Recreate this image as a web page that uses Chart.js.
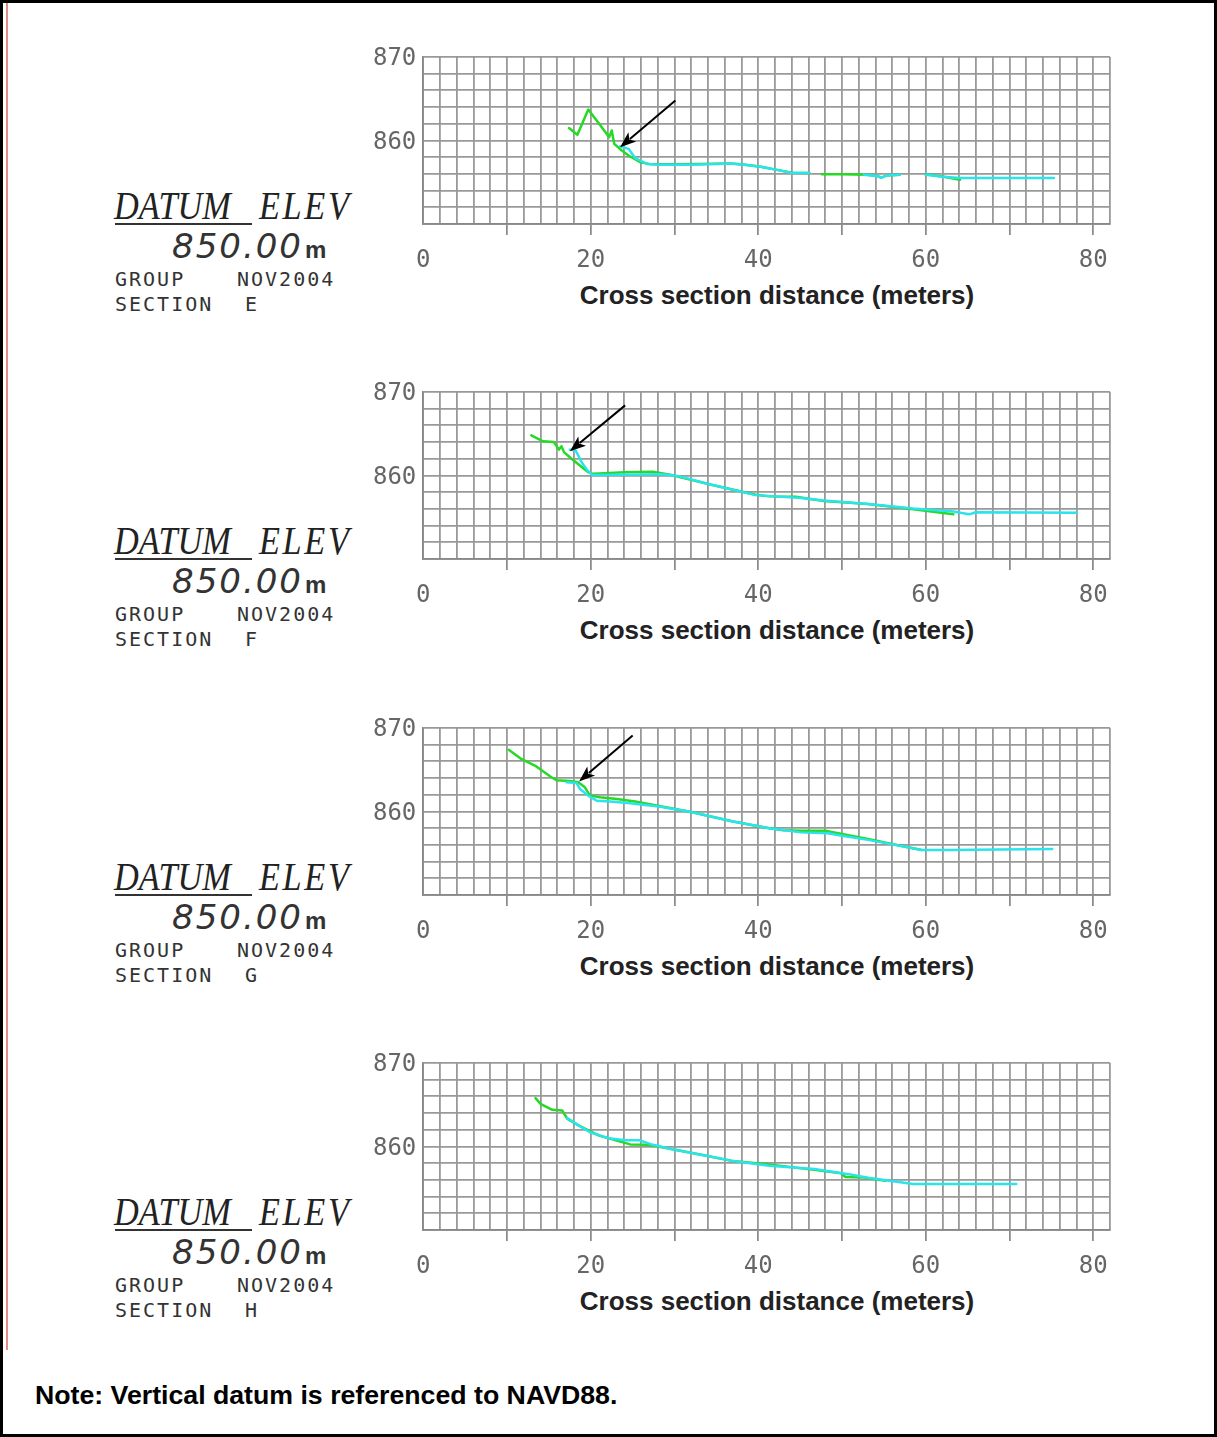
<!DOCTYPE html>
<html>
<head>
<meta charset="utf-8">
<script src="https://cdn.jsdelivr.net/npm/chart.js@4.4.0/dist/chart.umd.min.js"></script>
<style>
  body { margin: 0; background: #fff; }
  #page { position: relative; width: 1217px; height: 1437px; overflow: hidden; background: #fff; }
  #frame { position: absolute; left: 0; top: 0; width: 1217px; height: 1437px; box-sizing: border-box; border: 3px solid #000; pointer-events: none; }
  #redline { position: absolute; left: 6px; top: 3px; width: 2px; height: 1347px; background: #e08a8a; }
  .lbl { position: absolute; white-space: pre; line-height: 1; }
  .datum { font: italic 39px 'Liberation Serif', 'DejaVu Serif', serif; color: #222; transform: scaleX(0.88); transform-origin: left top; }
  .datum.wide { letter-spacing: 3px; }
  .uline { position: absolute; height: 2px; background: #333; }
  .elev { font: italic 34px 'DejaVu Sans', sans-serif; color: #333; letter-spacing: 2px; }
  .elev span { font: bold 24px 'Liberation Sans', Arial, sans-serif; letter-spacing: 0; margin-left: 2px; }
  .cad { font: 20px 'DejaVu Sans Mono', monospace; color: #333; letter-spacing: 2px; }
  .xtitle { font: bold 26px 'Liberation Sans', Arial, sans-serif; color: #222; transform: translateX(-50%); }
  .note { font: bold 26.7px 'Liberation Sans', Arial, sans-serif; color: #000; }
  canvas.plot { position: absolute; }
</style>
</head>
<body>
<div id="page">
  <div id="redline"></div>
  <div class="lbl note" style="left:35px; top:1380px;">Note: Vertical datum is referenced to NAVD88.</div>
  <div id="frame"></div>
</div>
<script>
// ---- data (distance m, elevation m); null elevation = gap in survey line ----
const sectionNames = ['E', 'F', 'G', 'H'];
const groupName = 'NOV2004';
const datumElev = '850.00';
const xLabels = [0, 20, 40, 60, 80];
const yLabels = [860, 870];

const greenE = [[17.4,861.5],[18.4,860.7],[19.7,863.7],[21.0,862.0],[22.2,860.4],[22.5,861.2],[22.8,859.6],[23.7,858.8],[24.5,858.2],[25.9,857.4],[27.0,857.2],[30,857.15],[33,857.2],[36.5,857.25],[38.5,857.1],[40.3,856.85],[42.4,856.45],[44,856.15],[46.1,856.1],[47.0,null],[47.6,855.95],[50,855.95],[53,855.9],[54.2,855.75],[54.7,855.55],[55.3,855.8],[56.9,855.9],[58,null],[60.0,855.95],[62,855.7],[64.1,855.3]];
const cyanE = [[23.5,859.3],[24.5,859.0],[25.3,857.9],[26.7,857.2],[28,857.1],[32,857.1],[37,857.25],[40.3,856.85],[42.4,856.45],[44,856.1],[46.1,856.1],[47,null],[52.6,855.9],[54.2,855.75],[54.7,855.55],[55.3,855.8],[56.9,855.9],[58,null],[60.0,855.9],[62,855.65],[64.1,855.5],[70,855.5],[75.3,855.5]];

const greenF = [[12.9,864.8],[14.3,864.1],[15.6,864.0],[16.2,863.1],[16.5,863.5],[16.8,862.8],[17.7,862.0],[18.7,861.2],[19.7,860.4],[20.2,860.2],[21,860.25],[24,860.4],[27.4,860.45],[29.5,860.1],[34.4,858.9],[39.7,857.7],[41.3,857.5],[44.5,857.45],[47.8,856.95],[50,856.8],[53.1,856.6],[58.5,855.95],[63.3,855.35]];
const cyanF = [[17.5,863.1],[18.2,863.0],[18.9,861.6],[19.6,860.6],[20.2,860.05],[24,860.1],[28.5,860.15],[30.6,859.9],[34.4,858.9],[39.7,857.65],[45.1,857.3],[47.8,857.0],[53.1,856.6],[58.5,856.05],[63.3,855.7],[64.3,855.5],[65.2,855.35],[66,855.6],[78,855.55]];

const greenG = [[10.2,867.4],[11.7,866.3],[13.5,865.4],[15.3,864.1],[15.9,863.75],[17.5,863.65],[18.5,863.5],[19.3,862.9],[19.9,861.9],[21.1,861.7],[23.1,861.5],[25.3,861.2],[28,860.7],[31.7,860.0],[37,858.8],[41.3,858.0],[43,857.75],[45.1,857.7],[48,857.7],[50,857.3],[53.1,856.7],[57.4,855.8],[59.5,855.4]];
const cyanG = [[17.1,863.5],[18.3,863.4],[18.7,862.7],[19.7,861.9],[20.7,861.3],[22.3,861.2],[24.7,861.0],[28.1,860.6],[31.7,860.0],[37,858.8],[41.3,858.0],[45.1,857.5],[48.3,857.4],[50,857.1],[53.1,856.6],[57.4,855.8],[59.5,855.4],[62.7,855.4],[75.1,855.5]];

const greenH = [[13.4,865.8],[14.0,865.1],[15.4,864.4],[16.6,864.3],[17.2,863.3],[18.6,862.5],[19.6,862.0],[21.0,861.3],[23.1,860.7],[24.7,860.25],[26.9,860.2],[29.6,859.7],[33.8,858.9],[37.0,858.25],[41.3,857.85],[46.7,857.2],[49.9,856.8],[50.4,856.35],[52.6,856.3],[55.2,855.9]];
const cyanH = [[17.2,863.4],[18.6,862.5],[19.9,861.7],[22.1,861.0],[24.2,860.75],[25.8,860.75],[27.4,860.2],[29.6,859.7],[33.8,858.9],[37.0,858.25],[41.3,857.7],[46.7,857.3],[51.0,856.65],[53.1,856.25],[56.3,855.8],[58.5,855.5],[70.8,855.5]];

// arrow annotations: [tailX, tailY, tipX, tipY] in data units
const arrowE = [30.1, 864.8, 23.5, 859.2];
const arrowF = [24.1, 868.4, 17.5, 862.9];
const arrowG = [25.0, 869.1, 18.6, 863.6];
const arrowH = null;

const GREEN = '#25d925';
const CYAN = '#2ae3ec';
const GRID = '#999999';

// ---- helpers ----
function range(a, b, step) {
  const out = [];
  for (let v = a; v <= b + 1e-9; v += step) out.push(Math.round(v * 1000) / 1000);
  return out;
}
function toPts(arr) {
  return arr.map(p => ({ x: p[0], y: p[1] }));
}

// arrow drawn with the chart's scales
const arrowPlugin = {
  id: 'arrow',
  afterDatasetsDraw(chart, args, opts) {
    const a = opts.points;
    if (!a) return;
    const xs = chart.scales.x, ys = chart.scales.y;
    const x1 = xs.getPixelForValue(a[0]), y1 = ys.getPixelForValue(a[1]);
    const x2 = xs.getPixelForValue(a[2]), y2 = ys.getPixelForValue(a[3]);
    const ang = Math.atan2(y2 - y1, x2 - x1);
    const hl = 16, hw = 6;
    const ctx = chart.ctx;
    ctx.save();
    ctx.strokeStyle = '#000';
    ctx.fillStyle = '#000';
    ctx.lineWidth = 2;
    ctx.beginPath();
    ctx.moveTo(x1, y1);
    ctx.lineTo(x2 - Math.cos(ang) * hl * 0.8, y2 - Math.sin(ang) * hl * 0.8);
    ctx.stroke();
    ctx.beginPath();
    ctx.moveTo(x2, y2);
    ctx.lineTo(x2 - Math.cos(ang) * hl - Math.sin(ang) * hw, y2 - Math.sin(ang) * hl + Math.cos(ang) * hw);
    ctx.lineTo(x2 - Math.cos(ang) * hl * 0.75, y2 - Math.sin(ang) * hl * 0.75);
    ctx.lineTo(x2 - Math.cos(ang) * hl + Math.sin(ang) * hw, y2 - Math.sin(ang) * hl - Math.cos(ang) * hw);
    ctx.closePath();
    ctx.fill();
    ctx.restore();
  }
};

const tickFont = { family: "'DejaVu Sans Mono', monospace", size: 24 };

function makeChart(canvas, green, cyan, arrow) {
  return new Chart(canvas, {
    type: 'line',
    data: {
      datasets: [
        { label: 'Survey B', data: toPts(cyan), borderColor: CYAN, order: 1 },
        { label: 'Survey A', data: toPts(green), borderColor: GREEN, order: 2 }
      ]
    },
    options: {
      responsive: false,
      animation: false,
      events: [],
      layout: { padding: { left: 0, top: 30, right: 30, bottom: 0 } },
      elements: {
        line: { borderWidth: 2.5, tension: 0, fill: false, borderJoinStyle: 'round', borderCapStyle: 'round' },
        point: { radius: 0 }
      },
      spanGaps: false,
      plugins: {
        legend: { display: false },
        tooltip: { enabled: false },
        arrow: { points: arrow }
      },
      scales: {
        x: {
          type: 'linear', min: 0, max: 82,
          afterBuildTicks: ax => { ax.ticks = range(0, 82, 2).map(v => ({ value: v })); },
          afterFit: ax => { ax.height = 93; },
          grid: {
            color: GRID, lineWidth: 1.8, tickLength: 11, tickWidth: 1.5,
            tickColor: ctx => (ctx.tick && ctx.tick.value % 10 === 0 && ctx.tick.value > 0 && ctx.tick.value < 82) ? '#777' : 'rgba(0,0,0,0)'
          },
          border: { color: '#888', width: 1.8 },
          ticks: {
            autoSkip: false, maxRotation: 0, padding: 11, color: '#666', font: tickFont,
            callback: v => xLabels.includes(v) ? String(v) : ''
          }
        },
        y: {
          min: 850, max: 870,
          afterBuildTicks: ax => { ax.ticks = range(850, 870, 2).map(v => ({ value: v })); },
          afterFit: ax => { ax.width = 83.3; },
          grid: { color: GRID, lineWidth: 1.8, drawTicks: false },
          border: { color: '#888', width: 1.8 },
          ticks: {
            autoSkip: false, padding: 7, labelOffset: 2, color: '#666', font: tickFont,
            callback: v => yLabels.includes(v) ? String(v) : ''
          }
        }
      }
    },
    plugins: [arrowPlugin]
  });
}

// ---- build panels ----
const page = document.getElementById('page');
const panelTops = [57, 392, 727.5, 1063];
const greens = [greenE, greenF, greenG, greenH];
const cyans = [cyanE, cyanF, cyanG, cyanH];
const arrows = [arrowE, arrowF, arrowG, arrowH];

function addDiv(cls, left, top, html, extraStyle) {
  const d = document.createElement('div');
  d.className = cls;
  d.style.left = left + 'px';
  d.style.top = top + 'px';
  if (extraStyle) d.style.cssText += extraStyle;
  d.innerHTML = html;
  page.insertBefore(d, document.getElementById('frame'));
  return d;
}

sectionNames.forEach((name, i) => {
  const T = panelTops[i];

  // left label block
  addDiv('lbl datum', 114, T + 126, 'DATUM');
  addDiv('lbl datum wide', 259, T + 126, 'ELEV');
  addDiv('uline', 115, T + 166, '', 'width:137px;');
  addDiv('lbl elev', 172, T + 169, datumElev + '<span>m</span>');
  addDiv('lbl cad', 115, T + 210, 'GROUP');
  addDiv('lbl cad', 237, T + 210, groupName);
  addDiv('lbl cad', 115, T + 235, 'SECTION');
  addDiv('lbl cad', 245, T + 235, name);

  // axis title
  addDiv('lbl xtitle', 777, T + 223, 'Cross section distance (meters)');

  // chart
  const c = document.createElement('canvas');
  c.className = 'plot';
  c.width = 800;
  c.height = 290;
  c.style.left = '340px';
  c.style.top = (T - 30) + 'px';
  c.style.width = '800px';
  c.style.height = '290px';
  page.insertBefore(c, document.getElementById('frame'));
  makeChart(c, greens[i], cyans[i], arrows[i]);
});
</script>
</body>
</html>
